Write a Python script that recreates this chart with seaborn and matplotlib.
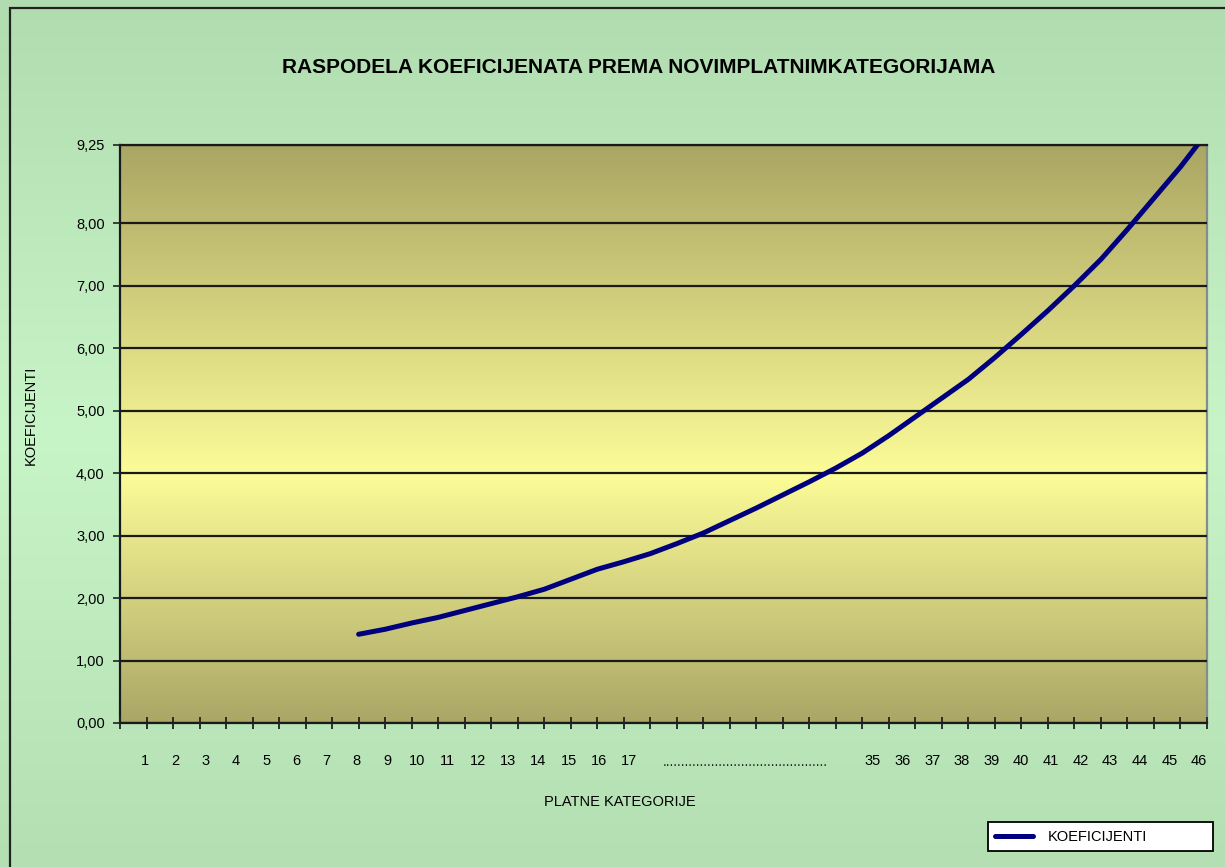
import numpy as np
import pandas as pd
import matplotlib
matplotlib.use("Agg")
import matplotlib.pyplot as plt
from matplotlib.patches import Rectangle
import seaborn as sns

#### DATA

# position of each point on the category axis (tick index) and its coefficient
x_pos = list(range(9, 42))
koef = [1.42, 1.50, 1.60, 1.69, 1.80, 1.91, 2.02, 2.14, 2.30, 2.46, 2.58,
        2.71, 2.87, 3.04, 3.24, 3.44, 3.65, 3.86, 4.08, 4.32, 4.60, 4.90,
        5.20, 5.50, 5.85, 6.22, 6.60, 7.00, 7.42, 7.90, 8.40, 8.90, 9.45]

labels_low = [str(i) for i in range(1, 18)]
labels_high = [str(i) for i in range(35, 47)]
y_ticks = [0, 1, 2, 3, 4, 5, 6, 7, 8, 9.25]

df = pd.DataFrame({"x": x_pos, "KOEFICIJENTI": koef})

#### STYLE

sns.set_style("white")
plt.rcParams['font.family'] = ['Liberation Sans', 'DejaVu Sans']
plt.rcParams['text.color'] = 'black'
plt.rcParams['axes.labelcolor'] = 'black'
plt.rcParams['xtick.color'] = 'black'
plt.rcParams['ytick.color'] = 'black'

fig = plt.figure(figsize=(12.25, 8.67), dpi=100)

# figure background (green gradient)
bg = fig.add_axes([0, 0, 1, 1], zorder=-10)
t = np.linspace(0, 1, 256)
stops = [0, 0.5, 1]
cols = np.array([[179, 223, 179], [200, 245, 200], [176, 220, 176]]) / 255
grad = np.stack([np.interp(t, stops, cols[:, c]) for c in range(3)], axis=1)
bg.imshow(grad[:, None, :], aspect='auto', extent=[0, 1, 0, 1], origin='lower')
bg.axis('off')

fig.add_artist(Rectangle((10 / 1225, -0.01), 1.02, 1 - 8 / 867 + 0.01,
                         transform=fig.transFigure, fill=False,
                         ec='#222222', lw=1.6))

ax = fig.add_axes([120 / 1225, 1 - 723 / 867, 1087 / 1225, 578 / 867])
ax.set_facecolor('none')

# plot area gradient (olive - pale yellow - olive)
ystops = [0, 0.43, 1]
pcols = np.array([[170, 166, 102], [252, 252, 152], [170, 166, 100]]) / 255
pgrad = np.stack([np.interp(t, ystops, pcols[:, c]) for c in range(3)], axis=1)
ax.imshow(pgrad[:, None, :], aspect='auto', extent=[0, 41, 0, 9.25],
          origin='lower', zorder=0)

sns.lineplot(data=df, x="x", y="KOEFICIJENTI", ax=ax, color='#00007f',
             linewidth=3.6, label='KOEFICIJENTI', zorder=5)

ax.set_xlim(0, 41)
ax.set_ylim(0, 9.25)

# y axis
ax.set_yticks(y_ticks)
ax.set_yticklabels([f"{v:.2f}".replace('.', ',') for v in y_ticks], fontsize=10.5)
ax.yaxis.grid(True, color='#1a1a1a', linewidth=1.6, zorder=1)
ax.set_axisbelow(False)
ax.tick_params(axis='y', left=True, direction='out', length=5, width=1.2,
               color='#222222', pad=6)

# x axis: tick marks between categories, labels placed under them
ax.set_xticks(range(0, 42))
ax.set_xticklabels([])
ax.tick_params(axis='x', which='major', bottom=True, direction='inout',
               length=9, width=1.3, color='#222222')
lab_pos = list(np.linspace(0.95, 19.2, len(labels_low))) + list(np.linspace(28.4, 40.7, len(labels_high)))
ax.set_xticks(lab_pos, minor=True)
ax.set_xticklabels(labels_low + labels_high, minor=True, fontsize=10.5)
ax.tick_params(axis='x', which='minor', bottom=True, length=0, pad=22)
ax.text(23.6, -0.068, '.' * 44, transform=ax.get_xaxis_transform(),
        ha='center', va='center', fontsize=10, color='#222222')

for s in ['left', 'bottom', 'top']:
    ax.spines[s].set_color('#1a1a1a')
    ax.spines[s].set_linewidth(1.6)
ax.spines['right'].set_color('#8a8a8a')
ax.spines['right'].set_linewidth(1.6)

ax.set_xlabel('PLATNE KATEGORIJE', fontsize=10.5)
ax.xaxis.set_label_coords(0.46, -0.125)
ax.set_ylabel('KOEFICIJENTI', fontsize=10.5)
ax.yaxis.set_label_coords(-0.076, 0.533)

fig.text(0.521, 0.922, 'RASPODELA KOEFICIJENATA PREMA NOVIMPLATNIMKATEGORIJAMA',
         ha='center', va='center', fontsize=15, fontweight='bold',
         family=['Liberation Sans Narrow', 'Liberation Sans', 'DejaVu Sans'])

handles, labels = ax.get_legend_handles_labels()
ax.get_legend().remove()
leg = fig.legend(handles, labels, loc='lower left',
                 bbox_to_anchor=(988 / 1225, 16 / 867, 225 / 1225, 31 / 867),
                 mode='expand', frameon=True, fancybox=False, framealpha=1,
                 fontsize=10.5, handlelength=2.6, borderpad=0.5,
                 borderaxespad=0, handletextpad=1.0)
leg.get_frame().set_edgecolor('black')
leg.get_frame().set_linewidth(1.3)
leg.get_frame().set_facecolor('white')

plt.savefig("out.png", dpi=100)
